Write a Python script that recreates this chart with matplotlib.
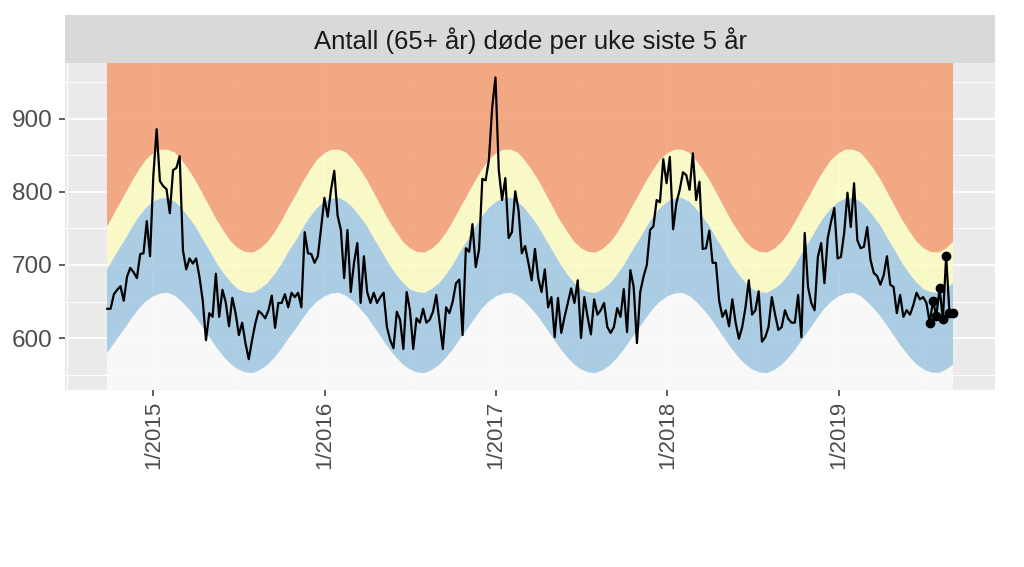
import numpy as np
import pandas as pd
import matplotlib
matplotlib.use("Agg")
import matplotlib.pyplot as plt
import matplotlib.dates as mdates
from matplotlib.patches import Rectangle
from matplotlib.ticker import FuncFormatter, MultipleLocator

plt.rcParams['font.family'] = ['Liberation Sans', 'DejaVu Sans']

title = "Antall (65+ år) døde per uke siste 5 år"

# weekly deaths, 65+
deaths = [
    640, 640, 660, 666, 671, 651, 684, 696, 690, 682, 715, 716, 760, 712, 823, 886, 815,
    808, 804, 771, 830, 833, 849, 720, 694, 709, 702, 709, 684, 652, 597, 634, 629, 688, 629,
    666, 649, 616, 655, 634, 604, 621, 593, 571, 597, 620, 637, 633, 627, 638, 658, 614,
    648, 648, 660, 642, 662, 656, 662, 642, 745, 716, 715, 703, 712, 751, 792, 766, 803,
    829, 768, 748,
    682, 748, 663, 703, 730, 648, 712, 663, 648, 662, 648, 656, 662, 615, 597, 586, 636,
    625, 585, 663, 638, 585, 627, 621, 640, 621, 625, 636, 659, 621, 585, 642, 634, 650,
    675, 680,
    604, 723, 718, 756, 697, 721, 818, 816, 844, 916, 957, 830, 789, 819, 737, 745, 801,
    775, 716, 726, 703, 679, 722, 682, 663, 694, 642, 656, 601, 655, 607, 629, 648, 668,
    648, 679, 600,
    656, 629, 605, 653, 632, 638, 648, 615, 607, 615, 641, 629, 667, 608, 693, 670, 593,
    663, 684, 700, 748, 753, 789, 786, 845, 812, 848, 749, 785, 803, 827, 823, 803, 853,
    789, 814,
    722, 723, 747, 703, 703, 651, 629, 638, 616, 653, 621, 599, 615, 642, 679, 632, 638,
    664, 595, 601, 615, 656, 632, 611, 615, 638, 626, 621, 621, 659, 601, 744, 670, 648,
    638, 711, 730,
    675, 737, 759, 778, 709, 711, 744, 799, 752, 812, 734, 723, 725, 752, 707, 689, 685,
    673, 686, 712, 673, 670, 634, 659, 629, 638, 632, 645, 662, 653, 656, 648,
    621, 651, 630, 668, 626, 712, 634, 634,
]
n_marked = 8  # last weeks drawn with points
first_week = "2014-09-25"
last_week = "2019-09-01"

# seasonal band limits, 1st and 16th of each month (same every year)
band_low = [657, 661, 662, 658, 651, 641, 629, 615, 601, 587, 574, 564,
            557, 553, 552, 556, 563, 573, 585, 599, 613, 627, 640, 650]
band_mid = [787, 791, 792, 787, 779, 767, 753, 736, 720, 703, 688, 676,
            667, 663, 662, 667, 675, 687, 701, 718, 734, 751, 766, 778]
band_high = [853, 858, 858, 854, 845, 832, 816, 798, 780, 762, 746, 732,
             723, 718, 717, 722, 731, 744, 760, 778, 796, 814, 830, 844]
band_years = [2014, 2015, 2016, 2017, 2018, 2019, 2020]

weeks = pd.date_range(first_week, last_week, periods=len(deaths))
band_dates = []
for yr in band_years:
    for m in range(1, 13):
        band_dates += [pd.Timestamp(yr, m, 1), pd.Timestamp(yr, m, 16)]
band_dates = pd.DatetimeIndex(band_dates)
lo = np.tile(band_low, len(band_years))
mid = np.tile(band_mid, len(band_years))
hi = np.tile(band_high, len(band_years))

fig = plt.figure(figsize=(10.24, 5.67), dpi=100)
ax = fig.add_axes([0.0635, 0.3122, 0.9082, 0.5767])
ax.set_facecolor('#EBEBEB')

ymin, ymax = 528.8, 976.7
ax.set_ylim(ymin, ymax)
pad = (weeks[-1] - weeks[0]) * 0.05
ax.set_xlim(weeks[0] - pad, weeks[-1] + pad)

ax.yaxis.set_major_locator(MultipleLocator(100))
ax.yaxis.set_minor_locator(MultipleLocator(50))
ax.xaxis.set_major_locator(mdates.YearLocator())
ax.xaxis.set_minor_locator(mdates.MonthLocator(bymonth=7))
ax.xaxis.set_major_formatter(FuncFormatter(
    lambda v, p: f"{mdates.num2date(v).month}/{mdates.num2date(v).year}"))

ax.grid(which='major', color='white', lw=1.3)
ax.grid(which='minor', color='white', lw=0.7)
ax.set_axisbelow(True)

clip = Rectangle((mdates.date2num(weeks[0]), ymin),
                 mdates.date2num(weeks[-1]) - mdates.date2num(weeks[0]),
                 ymax - ymin, transform=ax.transData, visible=False)
ax.add_patch(clip)
a = 0.88
fills = [
    ax.fill_between(band_dates, ymin, lo, color='#FAFAFA', alpha=a, lw=0),
    ax.fill_between(band_dates, lo, mid, color='#A3C9E2', alpha=a, lw=0),
    ax.fill_between(band_dates, mid, hi, color='#FBFBC4', alpha=a, lw=0),
    ax.fill_between(band_dates, hi, ymax, color='#F59F76', alpha=a, lw=0),
]
for f in fills:
    f.set_clip_path(clip)

ax.plot(weeks, deaths, color='black', lw=1.6)
ax.plot(weeks[-n_marked:], deaths[-n_marked:], 'o', color='black', ms=6)

for s in ax.spines.values():
    s.set_visible(False)
ax.tick_params(axis='both', which='major', length=4.5, width=1.1, color='#333333',
               labelcolor='#4D4D4D')
ax.tick_params(axis='y', labelsize=17.5, pad=4.5)
ax.tick_params(axis='x', labelsize=16, labelrotation=90)
ax.tick_params(axis='both', which='minor', length=0)

strip = fig.add_axes([0.0635, 0.8889, 0.9082, 0.0846])
strip.set_facecolor('#D9D9D9')
strip.set_xticks([])
strip.set_yticks([])
for s in strip.spines.values():
    s.set_visible(False)
strip.text(0.5, 0.47, title, ha='center', va='center', fontsize=18.5, color='#1A1A1A',
           transform=strip.transAxes)

fig.savefig("out.png", dpi=100)
